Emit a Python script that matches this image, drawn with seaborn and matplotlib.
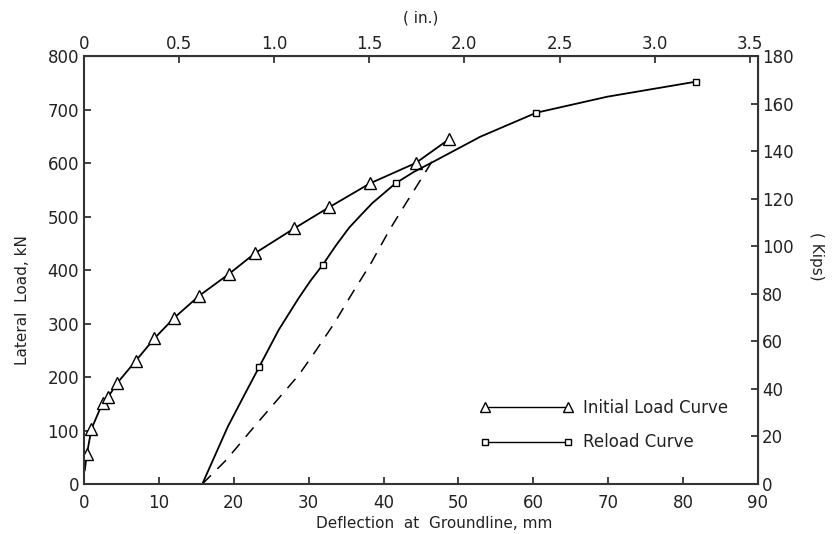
import matplotlib
matplotlib.use('Agg')
import matplotlib.pyplot as plt
import seaborn as sns
import pandas as pd
from matplotlib.lines import Line2D

# Curva de carga inicial (el primer punto es solo línea, sin marcador)
inicial_mm = [0.1, 0.4, 1.0, 2.5, 3.2, 4.4, 6.9, 9.4, 12.0, 15.4, 19.3, 22.9, 28.1, 32.7, 38.2, 44.3, 48.7]
inicial_kn = [25, 57, 103, 152, 162, 188, 230, 272, 310, 352, 392, 432, 478, 517, 562, 600, 644]
inicial_marcas = list(range(1, len(inicial_mm)))

recarga_mm = [15.8, 19.2, 21.4, 23.4, 26.0, 28.6, 30.2, 31.9, 33.6, 35.4, 37.0, 38.5, 41.6, 44.0, 47.0, 52.9, 60.4, 69.9, 81.7]
recarga_kn = [0, 107, 166, 219, 288, 346, 379, 410, 445, 479, 503, 525, 562, 583, 605, 649, 694, 724, 752]
recarga_marcas = [3, 7, 12, 16, 18]

# Curva de descarga (discontinua)
descarga_mm = [15.8, 19.0, 22.9, 25.8, 28.7, 31.0, 33.4, 35.8, 38.3, 40.8, 43.0, 45.2, 47.0]
descarga_kn = [0, 45, 110, 157, 204, 250, 300, 356, 412, 475, 525, 574, 615]

ticks_mm = list(range(0, 91, 10))
ticks_kn = list(range(0, 801, 100))
ticks_in = [0, 0.5, 1.0, 1.5, 2.0, 2.5, 3.0, 3.5]
etiquetas_in = ['0', '0.5', '1.0', '1.5', '2.0', '2.5', '3.0', '3.5']
ticks_kips = list(range(0, 181, 20))

kn_por_kip = 800 / 180
mm_por_in = 25.4

sns.set_style("ticks")
plt.rcParams['font.family'] = ['DejaVu Sans']
gris = '#222222'

fig = plt.figure(figsize=(8.38, 5.34), dpi=100)
ax = fig.add_axes([0.1002, 0.0936, 0.8043, 0.8015])

df_ini = pd.DataFrame({'x': inicial_mm, 'y': inicial_kn})
df_rec = pd.DataFrame({'x': recarga_mm, 'y': recarga_kn})
df_des = pd.DataFrame({'x': descarga_mm, 'y': descarga_kn})

sns.lineplot(data=df_ini, x='x', y='y', ax=ax, sort=False, estimator=None, color='black',
             linewidth=1.3, marker='^', markevery=inicial_marcas, markersize=8,
             markerfacecolor='white', markeredgecolor='black', markeredgewidth=1.0)
sns.lineplot(data=df_rec, x='x', y='y', ax=ax, sort=False, estimator=None, color='black',
             linewidth=1.3, marker='s', markevery=recarga_marcas, markersize=5,
             markerfacecolor='white', markeredgecolor='black', markeredgewidth=1.0)
sns.lineplot(data=df_des, x='x', y='y', ax=ax, sort=False, estimator=None, color='black',
             linewidth=1.1)
ax.lines[-1].set_dashes((8, 6))

ax.set_xlim(0, 90)
ax.set_ylim(0, 800)
ax.set_xticks(ticks_mm)
ax.set_yticks(ticks_kn)
ax.tick_params(direction='in', length=5, width=1.2, labelsize=12, colors=gris)
ax.tick_params(axis='x', pad=7)
for s in ax.spines.values():
    s.set_linewidth(1.5)
    s.set_color('#333333')

ax.set_xlabel('Deflection  at  Groundline, mm', fontsize=11, color=gris)
ax.set_ylabel('Lateral  Load, kN', fontsize=11, color=gris)
ax.xaxis.set_label_coords(0.52, -0.075)
ax.yaxis.set_label_coords(-0.08, 0.43)

# Eje superior en pulgadas
top = ax.secondary_xaxis('top', functions=(lambda x: x / mm_por_in, lambda x: x * mm_por_in))
top.set_xticks(ticks_in)
top.set_xticklabels(etiquetas_in)
top.tick_params(direction='in', length=5, width=1.2, labelsize=12, colors=gris, pad=2)
top.set_xlabel('( in.)', fontsize=11, color=gris, labelpad=9)

# Eje derecho en kips
der = ax.secondary_yaxis('right', functions=(lambda y: y / kn_por_kip, lambda y: y * kn_por_kip))
der.set_yticks(ticks_kips)
der.tick_params(direction='in', length=5, width=1.2, labelsize=12, colors=gris, pad=3)
fig.text(816 / 838, 1 - 256 / 534, '( Kips)', fontsize=11, color=gris, rotation=270,
         ha='center', va='center')

handles = [
    Line2D([0], [0], color='black', linewidth=1.0, marker='^', markersize=7,
           markerfacecolor='white', markeredgecolor='black'),
    Line2D([0], [0], color='black', linewidth=1.0, marker='s', markersize=4,
           markerfacecolor='white', markeredgecolor='black'),
]
fig.legend(handles, ['Initial Load Curve', 'Reload Curve'], loc='center left',
           bbox_to_anchor=(0.555, 0.204), frameon=False, fontsize=12, numpoints=2,
           handlelength=5.6, handletextpad=0.6, labelspacing=1.0, labelcolor=gris)

plt.savefig('out.png', dpi=100)
